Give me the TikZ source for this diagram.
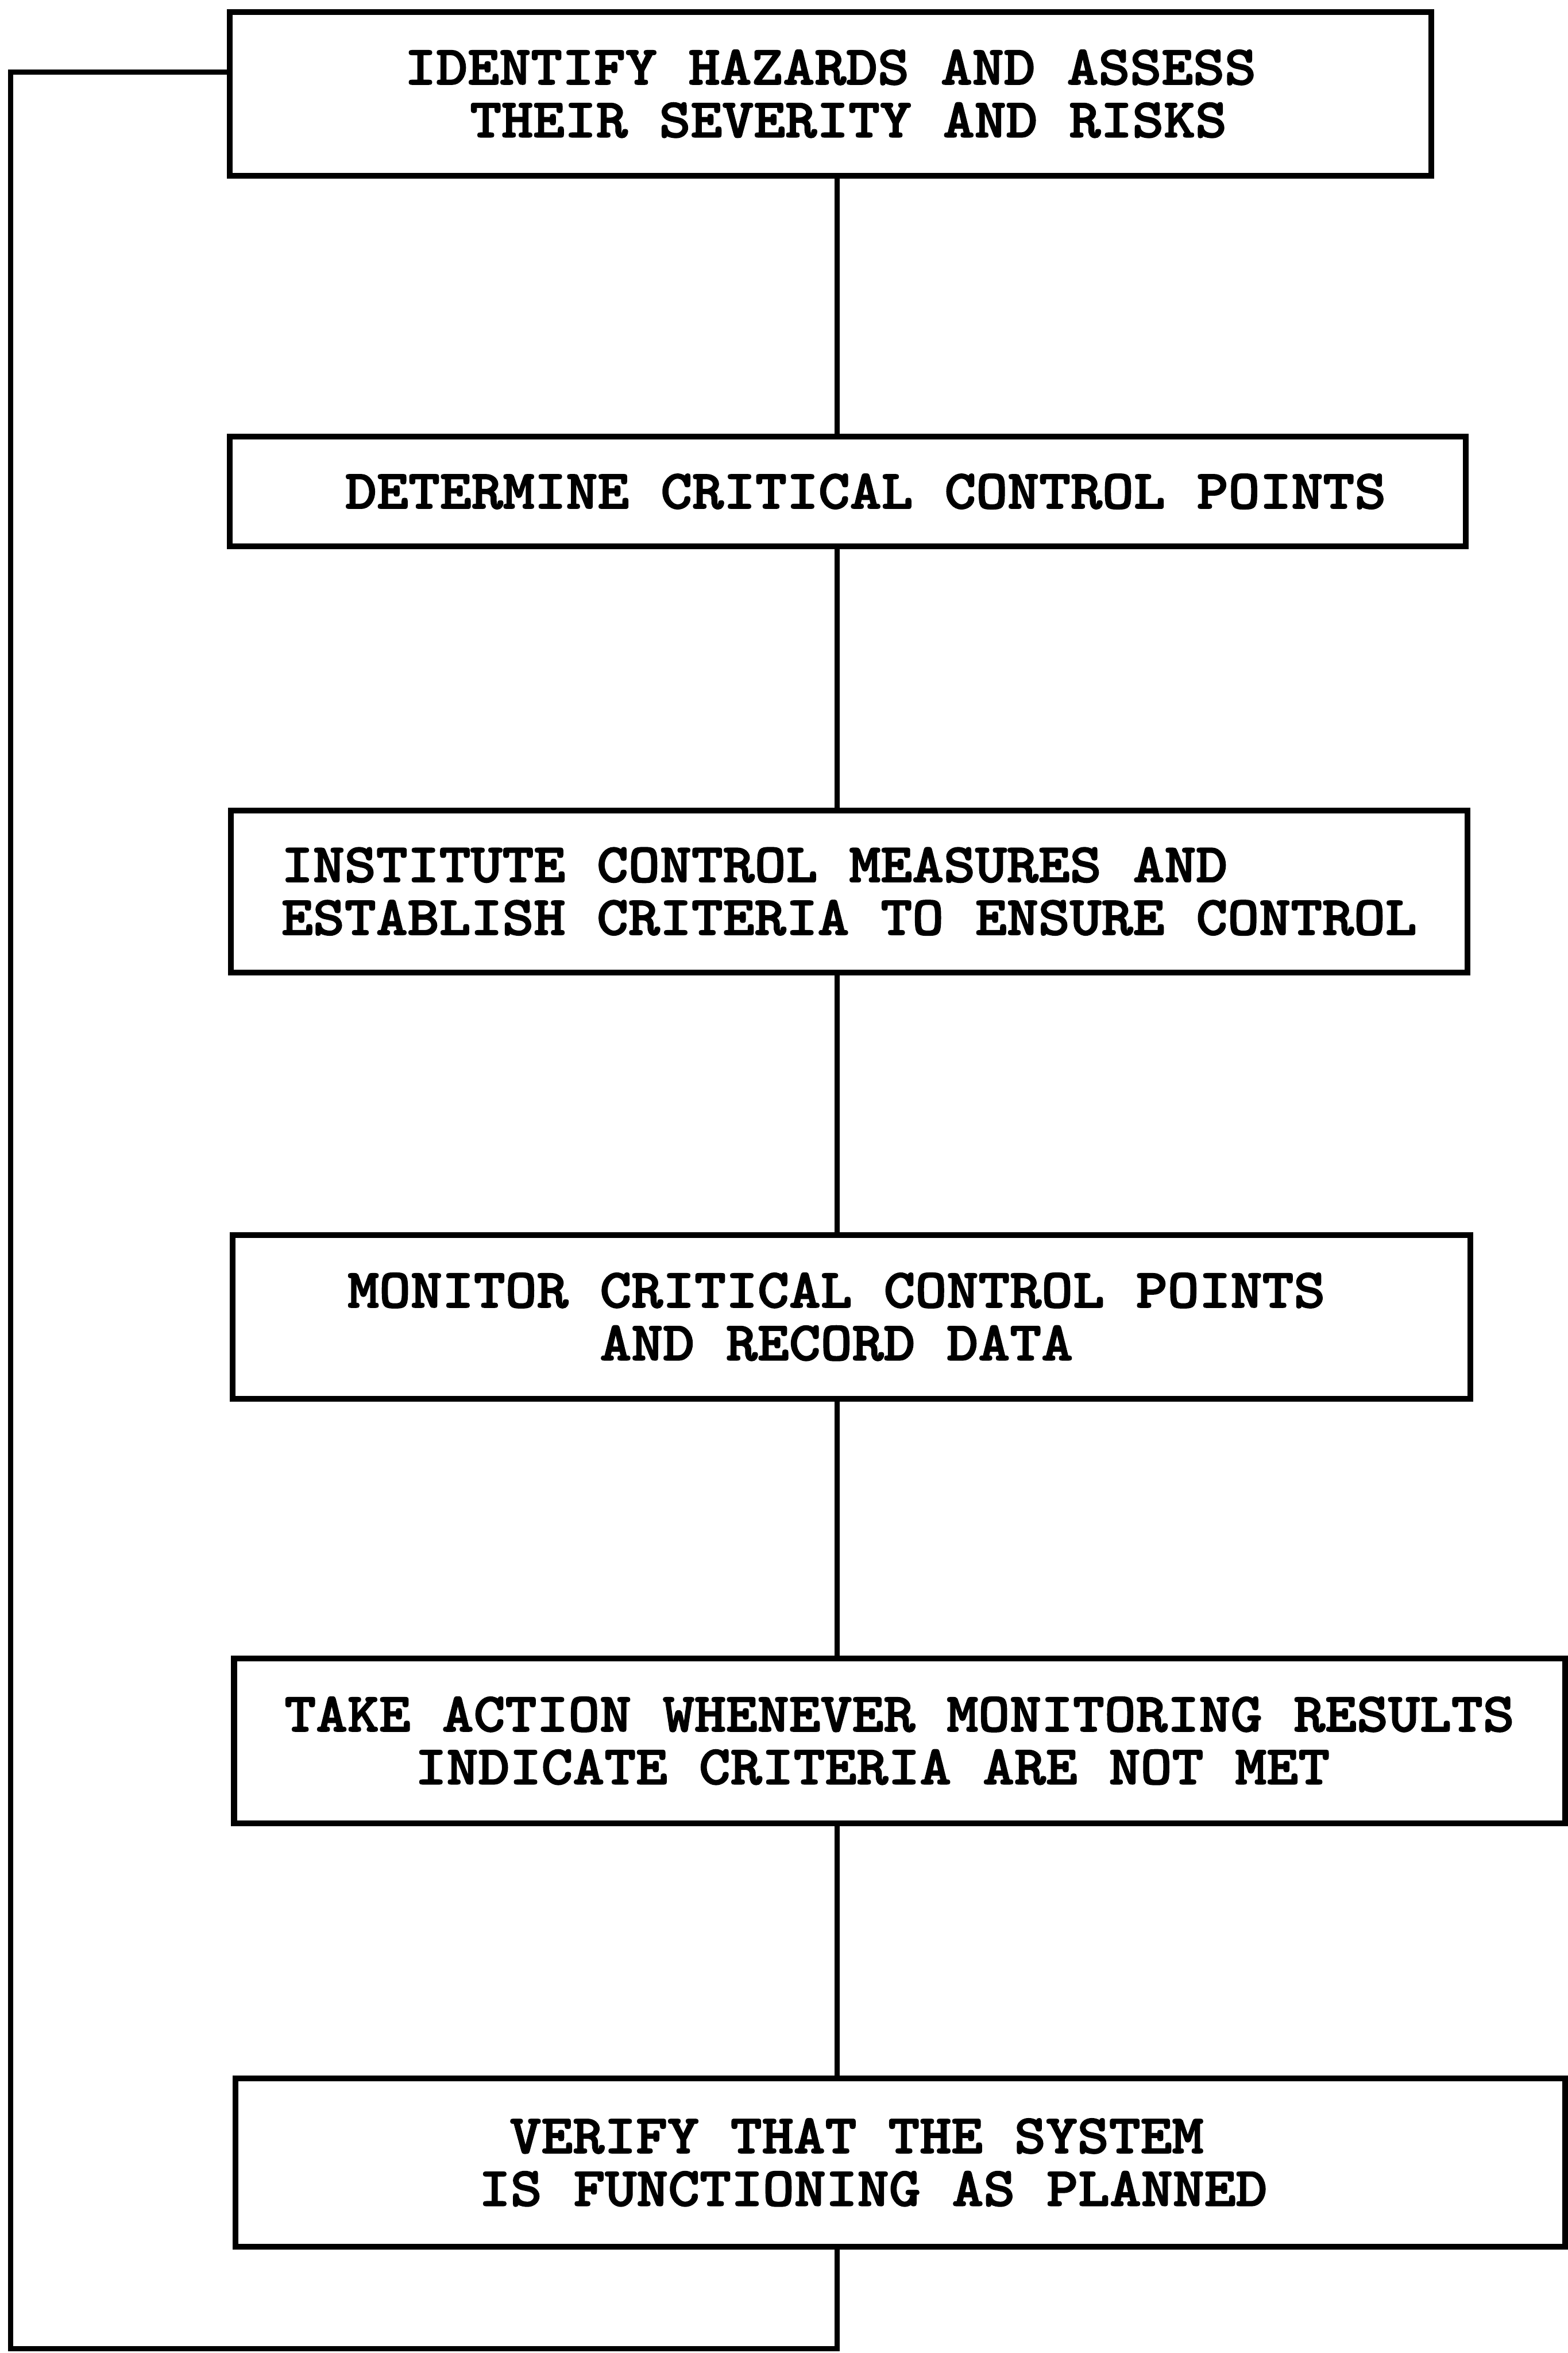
\documentclass[tikz,border=0pt]{standalone}
\usepackage{fontspec}
\newfontfamily\stagefont[Extension=.otf, FakeStretch=1.085, FakeBold=2]{lmmonolt10-bold}
\usetikzlibrary{positioning}

% moves one typed line sideways inside its box
\newcommand{\nudge}[1]{\hspace*{#1}}

\tikzset{
    stage/.style={draw, line width=1.1pt, align=center, inner sep=0pt,
        font=\stagefont\fontsize{10.5}{10}\selectfont},
    link/.style={line width=1pt}
}

\begin{document}
\begin{tikzpicture}[node distance=2.65cm, on grid]
    \useasboundingbox (0,0) rectangle (10.45,-15.68);

    \node[stage, minimum width=8.01cm, minimum height=1.09cm] (b1) at (5.535,-0.625)
        {IDENTIFY HAZARDS AND ASSESS\\\nudge{0.24cm}THEIR SEVERITY AND RISKS};
    \node[stage, minimum width=8.24cm, minimum height=0.73cm] (b2) [below=2.65cm of b1, xshift=1.15mm]
        {\nudge{0.24cm}DETERMINE CRITICAL CONTROL POINTS};
    \node[stage, align=left, minimum width=8.24cm, minimum height=1.08cm] (b3) [below=2.665cm of b2, xshift=0.1mm]
        {INSTITUTE CONTROL MEASURES AND\\ESTABLISH CRITERIA TO ENSURE CONTROL};
    \node[stage, minimum width=8.25cm, minimum height=1.09cm] (b4) [below=2.835cm of b3, xshift=0.15mm]
        {\nudge{-0.2cm}MONITOR CRITICAL CONTROL POINTS\\\nudge{-0.2cm}AND RECORD DATA};
    \node[stage, minimum width=8.87cm, minimum height=1.10cm] (b5) [below=2.825cm of b4, xshift=3.2mm]
        {TAKE ACTION WHENEVER MONITORING RESULTS\\\nudge{-0.36cm}INDICATE CRITERIA ARE NOT MET};
    \node[stage, minimum width=8.86cm, minimum height=1.12cm] (b6) [below=2.81cm of b5, xshift=0.05mm]
        {\nudge{-0.58cm}VERIFY THAT THE SYSTEM\\\nudge{-0.36cm}IS FUNCTIONING AS PLANNED};

    \coordinate (spine) at (5.58,0);
    \coordinate (corner) at (0.07,-15.65);
    \coordinate (feed) at (0.07,-0.48);

    \foreach \a/\b in {b1/b2, b2/b3, b3/b4, b4/b5, b5/b6}
        \draw[link] (spine |- \a.south) -- (spine |- \b.north);

    % loop back to the first step
    \draw[link] (spine |- b6.south) |- (corner) -- (feed) -- (feed -| b1.west);
\end{tikzpicture}
\end{document}
